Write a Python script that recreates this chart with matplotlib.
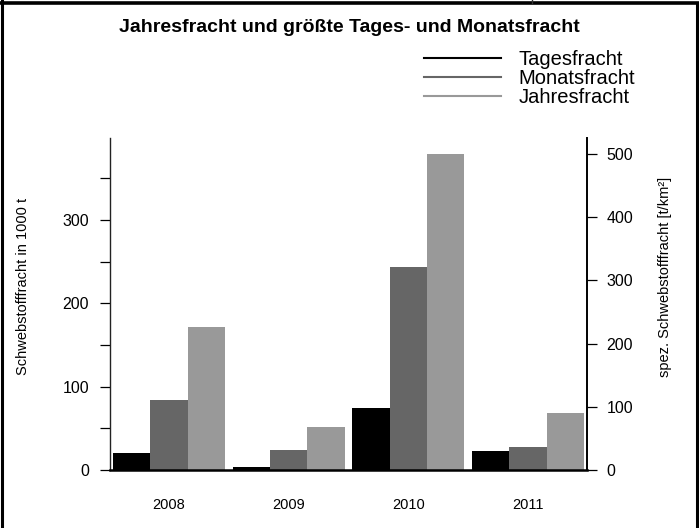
"""
Jahresfracht und größte Tages- und Monatsfracht (Balkendiagramm mit zwei y-Achsen).
"""

import numpy as np
import matplotlib
matplotlib.use('Agg')
import matplotlib.pyplot as plt
from matplotlib.lines import Line2D

plt.rcParams['font.family'] = ['Liberation Sans', 'DejaVu Sans']

# Daten (in 1000 t)
years = ['2008', '2009', '2010', '2011']
tagesfracht = [20.8, 4.0, 74.8, 22.8]
monatsfracht = [84.0, 24.0, 244.0, 28.0]
jahresfracht = [171.6, 52.0, 379.0, 68.8]

series_names = ['Tagesfracht', 'Monatsfracht', 'Jahresfracht']
series_colors = ['#000000', '#666666', '#999999']

left_ticks = [0, 100, 200, 300]
left_minor = [50, 150, 250, 350]
right_ticks = [0, 100, 200, 300, 400, 500]

spez_factor = 1.3186
left_top = 398.4

W, H = 699, 528
fig = plt.figure(figsize=(W / 100, H / 100), dpi=100)
ax = fig.add_axes([110 / W, 58 / H, 477 / W, 332 / H])

# Balken: je Jahr drei Balken nebeneinander, Abstand 0.2 zwischen den Gruppen
group_step = 3.2
x0 = 0.2 + np.arange(len(years)) * group_step
for j, (vals, name, col) in enumerate(zip([tagesfracht, monatsfracht, jahresfracht],
                                          series_names, series_colors)):
    ax.bar(x0 + j, vals, width=1.0, align='edge', color=col, edgecolor='none', label=name)

ax.set_xlim(0.12, 12.88)
ax.set_ylim(0, left_top)

# Achsen
ax.spines['top'].set_visible(False)
ax.spines['right'].set_visible(False)
ax.spines['left'].set_linewidth(1.0)
ax.spines['left'].set_color('#222222')
ax.spines['bottom'].set_linewidth(1.8)

ax.set_yticks(left_ticks)
ax.set_yticklabels([str(t) for t in left_ticks])
ax.set_yticks(left_minor, minor=True)
ax.tick_params(axis='y', which='both', direction='out', length=7.2, width=0.9,
               labelsize=11.5, pad=8)
ax.set_xticks(x0 + 1.5)
ax.set_xticklabels(years)
ax.tick_params(axis='x', length=0, labelsize=10.5, pad=20)

ax.set_ylabel('Schwebstofffracht in 1000 t', fontsize=10.5, va='center')
ax.yaxis.set_label_coords((23 - 110) / 477, (470 - 286) / 332)

ax2 = ax.twinx()
ax2.set_ylim(0, left_top * spez_factor)
ax2.set_yticks(right_ticks)
ax2.set_yticklabels([str(t) for t in right_ticks])
for side in ['top', 'left', 'bottom']:
    ax2.spines[side].set_visible(False)
ax2.spines['right'].set_linewidth(1.4)
ax2.tick_params(axis='y', direction='out', length=7.2, width=0.9, labelsize=11.5, pad=7)
ax2.set_ylabel('spez. Schwebstofffracht [t/km²]', fontsize=10.5, va='center', rotation=90)
ax2.yaxis.set_label_coords((665 - 110) / 477, (470 - 277) / 332)

# Titel
fig.text(0.5, 1 - 32 / H, 'Jahresfracht und größte Tages- und Monatsfracht',
         ha='center', va='baseline', fontsize=14, fontweight='bold')

# Legende (Linien statt Kästchen)
handles = [Line2D([0], [0], color=c, lw=1.5) for c in series_colors]
fig.legend(handles, series_names, loc='upper left',
           bbox_to_anchor=(424 / W, 1 - 50 / H), frameon=False,
           fontsize=14.5, handlelength=3.8, handletextpad=0.9,
           labelspacing=0.0, borderpad=0, borderaxespad=0)

# Rahmen der Tabellenzelle
fig.add_artist(Line2D([1.5 / W, 1.5 / W], [0, 1], color='black', lw=2.2,
                      transform=fig.transFigure))
fig.add_artist(Line2D([696.5 / W, 696.5 / W], [0, 1 - 3 / H], color='black', lw=2.2,
                      transform=fig.transFigure))
fig.add_artist(Line2D([0, 1], [1 - 3.3 / H, 1 - 3.3 / H], color='black', lw=2.6,
                      transform=fig.transFigure))
fig.add_artist(Line2D([532 / W, 532 / W], [1 - 3 / H, 1], color='#333333', lw=1.0,
                      transform=fig.transFigure))

fig.savefig('out.png', dpi=100)
